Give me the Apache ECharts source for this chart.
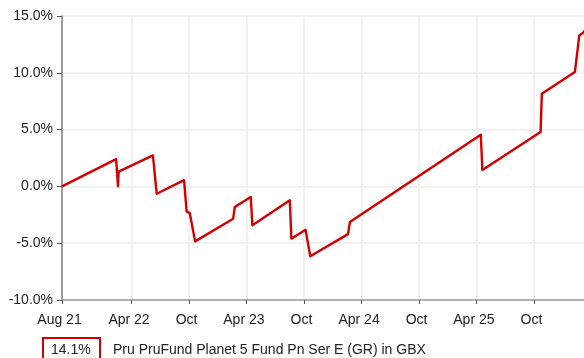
<!DOCTYPE html>
<html>
<head>
<meta charset="utf-8">
<script src="https://cdn.jsdelivr.net/npm/echarts@6/dist/echarts.min.js"></script>
<style>
  html, body { margin: 0; padding: 0; background: #fff; }
  #chart { width: 584px; height: 358px; }
</style>
</head>
<body>
<div id="chart"></div>
<script>
// Cumulative growth (%) of the fund, by date
const dates = [
  '2021-08-23', '2022-02-11', '2022-02-14', '2022-02-17', '2022-02-19',
  '2022-06-08', '2022-06-20', '2022-09-15', '2022-09-23', '2022-10-03',
  '2022-10-20', '2023-02-18', '2023-02-23', '2023-04-15', '2023-04-20',
  '2023-08-17', '2023-08-22', '2023-10-06', '2023-10-21', '2024-02-18',
  '2024-02-24', '2025-04-15', '2025-04-20', '2025-10-22', '2025-10-26',
  '2026-02-08', '2026-02-22', '2026-03-09', '2026-03-20'
];
const values = [
  0.0, 2.40, 1.20, 0.0, 1.30,
  2.73, -0.65, 0.55, -2.20, -2.35,
  -4.84, -2.84, -1.82, -0.94, -3.43,
  -1.23, -4.60, -3.81, -6.15, -4.20,
  -3.14, 4.55, 1.45, 4.78, 8.16,
  10.06, 13.29, 13.60, 14.1
];

const seriesName = 'Pru PruFund Planet 5 Fund Pn Ser E (GR) in GBX';

// Axis window and tick positions
const xStart = '2021-08-23';
const xEnd = '2026-03-09';
const xTickDates = [
  '2021-08-23', '2022-04-01', '2022-10-01', '2023-04-01', '2023-10-01',
  '2024-04-01', '2024-10-01', '2025-04-01', '2025-10-01'
];
const xTickLabels = ['Aug 21', 'Apr 22', 'Oct', 'Apr 23', 'Oct', 'Apr 24', 'Oct', 'Apr 25', 'Oct'];
const yMin = -10, yMax = 15, yStep = 5;

const FONT = '"Liberation Sans", Arial, sans-serif';
const RED = '#d40000';

const toTime = d => Date.UTC(+d.slice(0, 4), +d.slice(5, 7) - 1, +d.slice(8, 10));
const tickTimes = xTickDates.map(toTime);
const labelFor = {};
tickTimes.forEach((t, i) => { labelFor[t] = xTickLabels[i]; });

const lastValue = values[values.length - 1];

const chart = echarts.init(document.getElementById('chart'), null, { renderer: 'canvas' });
chart.setOption({
  animation: false,
  backgroundColor: '#ffffff',
  grid: { left: 62, right: 0, top: 16, bottom: 58, containLabel: false },
  xAxis: {
    type: 'value',
    min: toTime(xStart),
    max: toTime(xEnd),
    axisLine: { show: true, onZero: false, lineStyle: { color: '#9a9a9a', width: 1.5 } },
    axisTick: { show: true, length: 4, customValues: tickTimes, lineStyle: { color: '#555', width: 1 } },
    axisLabel: {
      customValues: tickTimes,
      formatter: v => labelFor[v] || '',
      color: '#222', fontFamily: FONT, fontSize: 14, margin: 13,
      padding: [0, 5, 0, 0], hideOverlap: false
    },
    splitLine: { show: true, lineStyle: { color: '#ececec', width: 1.5 } }
  },
  yAxis: {
    type: 'value',
    min: yMin, max: yMax, interval: yStep,
    axisLine: { show: true, lineStyle: { color: '#808080', width: 1.5 } },
    axisTick: { show: true, length: 5, lineStyle: { color: '#555', width: 1 } },
    axisLabel: {
      formatter: v => v.toFixed(1) + '%',
      color: '#222', fontFamily: FONT, fontSize: 14, margin: 9
    },
    splitLine: { show: true, lineStyle: { color: '#ececec', width: 1.5 } }
  },
  series: [{
    name: seriesName,
    type: 'line',
    data: dates.map((d, i) => [toTime(d), values[i]]),
    showSymbol: false,
    clip: true,
    lineStyle: { color: RED, width: 2.4, join: 'round' }
  }],
  graphic: [
    {
      type: 'rect', left: 42, top: 337,
      shape: { width: 57, height: 28 },
      style: { fill: '#fff', stroke: RED, lineWidth: 2 }
    },
    {
      type: 'text', left: 51, top: 343,
      style: { text: lastValue.toFixed(1) + '%', fill: '#222', font: '14px ' + FONT }
    },
    {
      type: 'text', left: 113, top: 343,
      style: { text: seriesName, fill: '#222', font: '14px ' + FONT }
    }
  ]
});
</script>
</body>
</html>
